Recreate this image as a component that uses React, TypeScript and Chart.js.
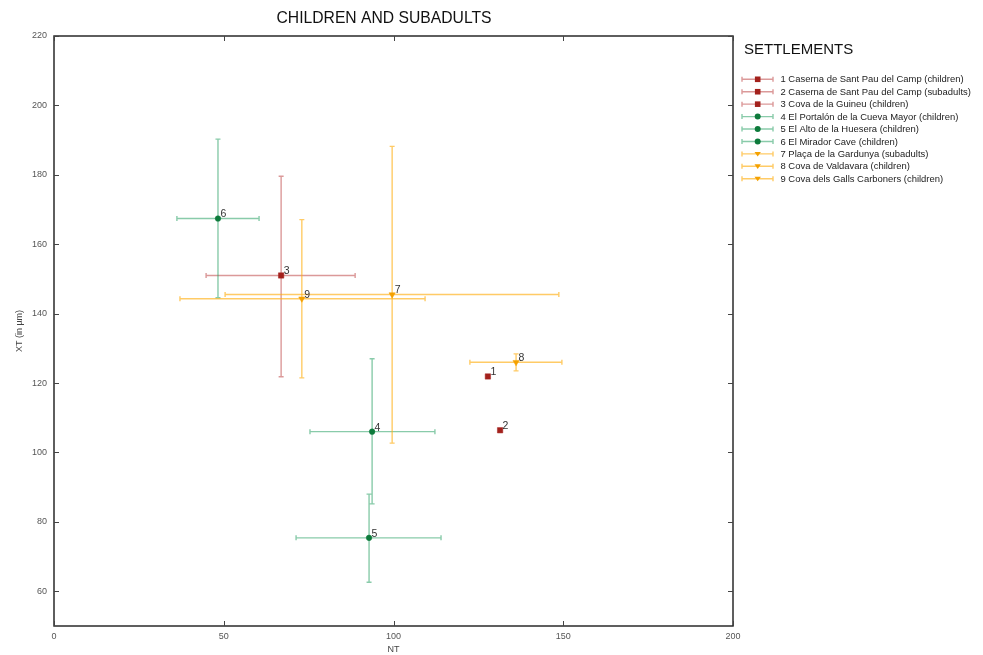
import React, { useEffect, useRef } from 'react';
import { Chart, registerables } from 'chart.js';

Chart.register(...registerables);

const chartTitle = 'CHILDREN AND SUBADULTS';
const legendTitle = 'SETTLEMENTS';
const xAxisTitle = 'NT';
const yAxisTitle = 'XT (in µm)';

const ids = ['1', '2', '3', '4', '5', '6', '7', '8', '9'];
const settlements = [
  '1 Caserna de Sant Pau del Camp (children)',
  '2 Caserna de Sant Pau del Camp (subadults)',
  '3 Cova de la Guineu (children)',
  '4 El Portalón de la Cueva Mayor (children)',
  '5 El Alto de la Huesera (children)',
  '6 El Mirador Cave (children)',
  '7 Plaça de la Gardunya (subadults)',
  '8 Cova de Valdavara (children)',
  '9 Cova dels Galls Carboners (children)',
];
const groups = [0, 0, 0, 1, 1, 1, 2, 2, 2];

const ntValues: number[] = [127.8, 131.4, 66.9, 93.7, 92.8, 48.3, 99.6, 136.1, 73.0];
const ntLow: (number | null)[] = [null, null, 44.8, 75.4, 71.3, 36.2, 50.4, 122.5, 37.1];
const ntHigh: (number | null)[] = [null, null, 88.7, 112.2, 114.0, 60.4, 148.7, 149.6, 109.3];
const xtValues: number[] = [121.9, 106.4, 151.0, 106.0, 75.4, 167.4, 145.5, 126.0, 144.3];
const xtLow: (number | null)[] = [null, null, 121.8, 85.2, 62.6, 144.6, 102.7, 123.5, 121.5];
const xtHigh: (number | null)[] = [null, null, 179.6, 127.0, 88.0, 190.3, 188.2, 128.4, 167.1];

const xTicks = [0, 50, 100, 150, 200];
const yTicks = [60, 80, 100, 120, 140, 160, 180, 200, 220];

const markerColors = ['#a3211c', '#0d7a3b', '#f4a100'];
const barColors = ['rgba(190,70,70,0.55)', 'rgba(40,160,100,0.55)', 'rgba(255,175,20,0.65)'];
const pointStyles = ['rect', 'circle', 'triangle'];
const pointRadii = [3.8, 2.8, 3.6];
const pointRotations = [0, 0, 180];

const capHalf = 2.5;

function drawMarker(ctx: CanvasRenderingContext2D, g: number, x: number, y: number) {
  ctx.save();
  ctx.fillStyle = markerColors[g];
  ctx.beginPath();
  if (g === 0) {
    ctx.rect(x - 2.8, y - 2.8, 5.6, 5.6);
  } else if (g === 1) {
    ctx.arc(x, y, 3, 0, Math.PI * 2);
  } else {
    ctx.moveTo(x - 3.2, y - 2);
    ctx.lineTo(x + 3.2, y - 2);
    ctx.lineTo(x, y + 2.6);
    ctx.closePath();
  }
  ctx.fill();
  ctx.restore();
}

const customPlugin = {
  id: 'customDecor',
  beforeDatasetsDraw(chart: any) {
    const ctx: CanvasRenderingContext2D = chart.ctx;
    const xs = chart.scales.x;
    const ys = chart.scales.y;
    ctx.save();
    ctx.lineWidth = 1.4;
    for (let i = 0; i < ids.length; i++) {
      const g = groups[i];
      ctx.strokeStyle = barColors[g];
      const px = xs.getPixelForValue(ntValues[i]);
      const py = ys.getPixelForValue(xtValues[i]);
      if (ntLow[i] !== null && ntHigh[i] !== null) {
        const x1 = xs.getPixelForValue(ntLow[i] as number);
        const x2 = xs.getPixelForValue(ntHigh[i] as number);
        ctx.beginPath();
        ctx.moveTo(x1, py);
        ctx.lineTo(x2, py);
        ctx.moveTo(x1, py - capHalf);
        ctx.lineTo(x1, py + capHalf);
        ctx.moveTo(x2, py - capHalf);
        ctx.lineTo(x2, py + capHalf);
        ctx.stroke();
      }
      if (xtLow[i] !== null && xtHigh[i] !== null) {
        const y1 = ys.getPixelForValue(xtLow[i] as number);
        const y2 = ys.getPixelForValue(xtHigh[i] as number);
        ctx.beginPath();
        ctx.moveTo(px, y1);
        ctx.lineTo(px, y2);
        ctx.moveTo(px - capHalf, y1);
        ctx.lineTo(px + capHalf, y1);
        ctx.moveTo(px - capHalf, y2);
        ctx.lineTo(px + capHalf, y2);
        ctx.stroke();
      }
    }
    ctx.restore();
  },
  afterDatasetsDraw(chart: any) {
    const ctx: CanvasRenderingContext2D = chart.ctx;
    const xs = chart.scales.x;
    const ys = chart.scales.y;
    const area = chart.chartArea;
    ctx.save();
    // point number labels
    ctx.fillStyle = '#333';
    ctx.font = '10.5px "Liberation Sans", Arial, sans-serif';
    ctx.textAlign = 'left';
    ctx.textBaseline = 'middle';
    for (let i = 0; i < ids.length; i++) {
      const px = xs.getPixelForValue(ntValues[i]);
      const py = ys.getPixelForValue(xtValues[i]);
      ctx.fillText(ids[i], px + 2.5, py - 4);
    }
    // frame
    ctx.strokeStyle = '#2a2a2a';
    ctx.lineWidth = 1.5;
    ctx.strokeRect(area.left, area.top, area.right - area.left, area.bottom - area.top);
    // inward ticks
    ctx.lineWidth = 1;
    ctx.strokeStyle = '#444';
    ctx.beginPath();
    const tl = 5;
    for (const v of xTicks) {
      const x = Math.round(xs.getPixelForValue(v)) + 0.5;
      ctx.moveTo(x, area.bottom);
      ctx.lineTo(x, area.bottom - tl);
      ctx.moveTo(x, area.top);
      ctx.lineTo(x, area.top + tl);
    }
    for (const v of yTicks) {
      const y = Math.round(ys.getPixelForValue(v)) + 0.5;
      ctx.moveTo(area.left, y);
      ctx.lineTo(area.left + tl, y);
      ctx.moveTo(area.right, y);
      ctx.lineTo(area.right - tl, y);
    }
    ctx.stroke();

    // chart title
    ctx.fillStyle = '#111';
    ctx.font = '15.7px "Liberation Sans", Arial, sans-serif';
    ctx.textAlign = 'center';
    ctx.textBaseline = 'middle';
    ctx.fillText(chartTitle, 384, 18.5);

    // legend
    ctx.textAlign = 'left';
    ctx.font = '15px "Liberation Sans", Arial, sans-serif';
    ctx.fillText(legendTitle, 744, 50);
    ctx.font = '9.45px "Liberation Sans", Arial, sans-serif';
    for (let i = 0; i < settlements.length; i++) {
      const g = groups[i];
      const y = 79.3 + i * 12.43;
      ctx.strokeStyle = barColors[g];
      ctx.lineWidth = 1.4;
      ctx.beginPath();
      ctx.moveTo(742, y);
      ctx.lineTo(773, y);
      ctx.moveTo(742, y - capHalf);
      ctx.lineTo(742, y + capHalf);
      ctx.moveTo(773, y - capHalf);
      ctx.lineTo(773, y + capHalf);
      ctx.stroke();
      drawMarker(ctx, g, 757.7, y);
      ctx.fillStyle = '#222';
      ctx.fillText(settlements[i], 780.5, y + 0.5);
    }
    ctx.restore();
  },
};

export default function App() {
  const canvasRef = useRef<HTMLCanvasElement | null>(null);

  useEffect(() => {
    if (!canvasRef.current) return;
    const datasets = ids.map((id, i) => {
      const g = groups[i];
      return {
        label: settlements[i],
        data: [{ x: ntValues[i], y: xtValues[i] }],
        pointStyle: pointStyles[g],
        pointRadius: pointRadii[g],
        pointRotation: pointRotations[g],
        backgroundColor: markerColors[g],
        borderColor: markerColors[g],
        borderWidth: 0.5,
        showLine: false,
      };
    });
    const chart = new Chart(canvasRef.current, {
      type: 'scatter',
      data: { datasets: datasets as any },
      plugins: [customPlugin as any],
      options: {
        animation: false,
        responsive: true,
        maintainAspectRatio: false,
        layout: { padding: { top: 36, right: 250, bottom: 0, left: 0 } },
        plugins: {
          legend: { display: false },
          title: { display: false },
          tooltip: { enabled: false },
        },
        scales: {
          x: {
            type: 'linear',
            min: 0,
            max: 200,
            afterBuildTicks: (s: any) => {
              s.ticks = xTicks.map((v) => ({ value: v }));
            },
            afterFit: (s: any) => {
              s.height = 29;
            },
            grid: { display: false, drawTicks: false },
            border: { display: false },
            ticks: {
              padding: 5,
              color: '#555',
              font: { family: '"Liberation Sans Narrow", "Liberation Sans", Arial', size: 9 },
              maxRotation: 0,
            },
            title: {
              display: true,
              text: xAxisTitle,
              color: '#444',
              font: { family: '"Liberation Sans Narrow", "Liberation Sans", Arial', size: 9 },
              padding: { top: 0, bottom: 0 },
            },
          },
          y: {
            type: 'linear',
            min: 50,
            max: 220,
            afterBuildTicks: (s: any) => {
              s.ticks = yTicks.map((v) => ({ value: v }));
            },
            afterFit: (s: any) => {
              s.width = 54;
            },
            grid: { display: false, drawTicks: false },
            border: { display: false },
            ticks: {
              padding: 7,
              color: '#555',
              font: { family: '"Liberation Sans", Arial', size: 9 },
            },
            title: {
              display: true,
              text: yAxisTitle,
              color: '#444',
              font: { family: '"Liberation Sans", Arial', size: 9 },
              padding: { top: 14, bottom: 0 },
            },
          },
        },
      } as any,
    });
    return () => chart.destroy();
  }, []);

  return (
    <div style={{ position: 'fixed', left: 0, top: 0, width: 983, height: 655, background: '#fff' }}>
      <canvas ref={canvasRef} />
    </div>
  );
}
